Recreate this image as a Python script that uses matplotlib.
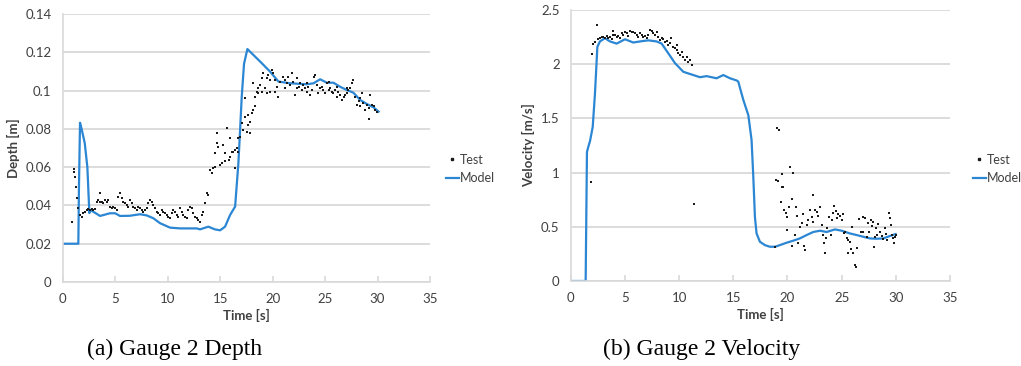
import matplotlib
matplotlib.use("Agg")
import matplotlib.pyplot as plt
from matplotlib.lines import Line2D

# ---------------- Data: (a) Gauge 2 Depth ----------------
depth_model_t = [0.0, 1.49, 1.55, 1.65, 1.8, 2.1, 2.35, 2.54, 2.6, 2.92, 3.56, 4.5, 5.0, 5.46, 6.4, 7.37,
                 8.0, 8.64, 9.28, 10.23, 11.18, 12.1, 12.77, 13.09, 13.88, 14.5, 15.0, 15.47, 15.95,
                 16.43, 16.74, 16.9, 17.06, 17.28, 17.6, 18.97, 19.76, 20.56, 21.67, 23.26, 23.9,
                 24.53, 25.17, 25.8, 26.43, 27.07, 27.7, 28.34, 28.98, 29.6, 30.1]
depth_model_d = [0.020, 0.020, 0.050, 0.0832, 0.080, 0.0726, 0.060, 0.036, 0.0376, 0.0367, 0.0345, 0.0359,
                 0.0359, 0.0345, 0.0346, 0.0354, 0.0348, 0.0333, 0.0307, 0.0284, 0.0280, 0.0280, 0.0280,
                 0.0275, 0.0289, 0.0275, 0.0270, 0.0289, 0.0350, 0.0394, 0.062, 0.079, 0.0968, 0.114,
                 0.1217, 0.1143, 0.1099, 0.1047, 0.1038, 0.1033, 0.1038, 0.1059, 0.1041, 0.1041, 0.1020,
                 0.1003, 0.0989, 0.0951, 0.0930, 0.0913, 0.0890]

depth_test_t = [0.89, 1.08, 1.08, 1.17, 1.27, 1.4, 1.49, 1.65, 1.81, 1.97, 2.13, 2.28, 2.44, 2.6, 2.76, 2.92,
                3.08, 3.24, 3.4, 3.56, 3.56, 3.72, 3.87, 4.03, 4.19, 4.35, 4.51, 4.67, 4.83, 4.99, 5.14,
                5.3, 5.46, 5.62, 5.78, 5.94, 6.1, 6.26, 6.42, 6.57, 6.73, 6.89, 7.05, 7.21, 7.37, 7.53,
                7.69, 7.85, 8.0, 8.16, 8.32, 8.48, 8.64, 8.8, 8.96, 9.12, 9.28, 9.43, 9.59, 9.75, 9.91,
                10.07, 10.23, 10.39, 10.55, 10.71, 10.86, 11.02, 11.18, 11.34, 11.5, 11.66, 11.82, 11.98,
                12.14, 12.3, 12.45, 12.61, 12.77, 12.93, 13.09, 13.25, 13.41, 13.57, 13.73, 13.89,
                14.05, 14.2, 14.36, 14.52, 14.52, 14.68, 14.68, 14.84, 15.0, 15.16, 15.32, 15.48, 15.48,
                15.64, 15.8, 15.95, 15.95, 16.11, 16.27, 16.43, 16.43, 16.59, 16.75, 16.75, 16.91,
                17.06, 17.22, 17.38, 17.38, 17.54, 17.7, 17.7, 17.86, 17.86, 18.02, 18.18, 18.34, 18.18,
                18.34, 18.5, 18.65, 18.81, 18.65, 18.97, 18.97, 19.13, 19.29, 19.45, 19.45, 19.61,
                19.77, 19.77, 19.93, 20.08, 20.24, 20.24, 20.4, 20.56,
                20.72, 21.04, 21.2, 21.2, 21.35, 21.51, 21.67, 21.83, 21.99, 22.15, 22.31, 22.31, 22.47,
                22.63, 22.78, 22.94, 23.1, 23.26, 23.26, 23.42, 23.58, 23.74, 23.9, 24.06, 24.21, 24.37,
                24.53, 24.69, 24.85, 25.01, 25.17, 25.33, 25.33, 25.49, 25.65, 25.8, 25.96, 26.12, 26.12,
                26.28, 26.44, 26.6, 26.76, 26.92, 27.07, 27.07, 27.23, 27.39, 27.55, 27.71, 27.87, 28.03,
                28.19, 28.35, 28.35, 28.5, 28.66, 28.82, 28.98, 29.14, 29.2, 29.3, 29.46, 29.62, 29.78,
                29.94]
depth_test_d = [0.0315, 0.0576, 0.0589, 0.0550, 0.0498, 0.0437, 0.0385, 0.0350, 0.0341, 0.0359, 0.0367,
                0.0376, 0.0380, 0.0376, 0.0380, 0.0376,
                0.0380, 0.0420, 0.0428, 0.0467, 0.0420, 0.0420, 0.0411, 0.0428, 0.0420, 0.0428, 0.0393,
                0.0385, 0.0393, 0.0385, 0.0376, 0.0446, 0.0463, 0.0437, 0.0420, 0.0411, 0.0402, 0.0393,
                0.0428, 0.0411, 0.0393, 0.0385, 0.0376, 0.0393, 0.0385, 0.0376, 0.0367, 0.0376, 0.0385,
                0.0411, 0.0428, 0.0420, 0.0402, 0.0385, 0.0367, 0.0359, 0.0350, 0.0376, 0.0367, 0.0359,
                0.0350, 0.0341, 0.0332, 0.0359, 0.0376, 0.0367, 0.0350, 0.0341, 0.0385, 0.0367, 0.0350,
                0.0341, 0.0332, 0.0376, 0.0393, 0.0385, 0.0359, 0.0341, 0.0332, 0.0324, 0.0315, 0.0350,
                0.0368, 0.0411, 0.0464, 0.0455,
                0.0586, 0.0568, 0.0594, 0.0603, 0.0673, 0.0725, 0.0777, 0.0707, 0.0612, 0.0621, 0.0716,
                0.0673, 0.0630, 0.0803, 0.0638, 0.0655, 0.0751, 0.0681, 0.0681, 0.0690, 0.0594, 0.0699,
                0.0751, 0.0681, 0.0760,
                0.0829, 0.0795, 0.0864, 0.0960, 0.0786, 0.0873, 0.0821, 0.0777, 0.0838, 0.0882, 0.0899,
                0.0917, 0.1038, 0.0969, 0.0995, 0.1012, 0.1030, 0.0986, 0.1064, 0.0995, 0.1090, 0.1012,
                0.1064, 0.0986, 0.1082, 0.1056, 0.0995, 0.1108, 0.1090, 0.1056, 0.0995, 0.1021, 0.0969,
                0.1047, 0.1073, 0.1056, 0.1012, 0.1038, 0.1073, 0.1030, 0.1090, 0.1047, 0.0977, 0.1064,
                0.1012, 0.1021, 0.1038, 0.1004, 0.1030, 0.1012, 0.0995, 0.1038, 0.1021, 0.0977, 0.1004,
                0.1073, 0.1082, 0.1030, 0.0986, 0.1012, 0.1021, 0.1004, 0.0986, 0.1038, 0.1004, 0.1047,
                0.1012, 0.0995, 0.0986, 0.1004, 0.0969, 0.1021, 0.0995, 0.0977, 0.0951, 0.0969, 0.0977,
                0.0986, 0.1012, 0.1004, 0.1012, 0.1038, 0.1056, 0.0969, 0.0925, 0.0943, 0.0917, 0.0960,
                0.0986, 0.0934, 0.0899, 0.0925, 0.0908, 0.0850, 0.0977, 0.0925, 0.0917, 0.0899, 0.0890]

depth_xticks = [0, 5, 10, 15, 20, 25, 30, 35]
depth_yticks = [0, 0.02, 0.04, 0.06, 0.08, 0.1, 0.12, 0.14]
depth_yticklabels = ["0", "0.02", "0.04", "0.06", "0.08", "0.1", "0.12", "0.14"]

# ---------------- Data: (b) Gauge 2 Velocity ----------------
vel_model_t = [0.0, 1.38, 1.5, 1.63, 1.78, 2.03, 2.24, 2.46, 2.7, 3.16, 3.63, 4.24, 5.01, 5.78, 6.39, 7.16,
               7.93, 8.39, 9.01, 9.62, 10.39, 11.0, 11.93, 12.54, 13.46, 14.08, 14.7, 15.31, 15.46, 15.93,
               16.39, 16.69, 16.85, 17.0, 17.15, 17.46, 17.92, 18.38, 18.85, 19.3, 19.92, 20.54, 21.15,
               21.77, 22.38, 23.0, 23.61, 24.38, 25.0, 25.76, 26.38, 27.0, 27.61, 28.23, 28.84, 29.45,
               29.98]
vel_model_v = [0.0, 0.0, 1.19, 1.24, 1.29, 1.42, 1.73, 2.16, 2.21, 2.24, 2.21, 2.19, 2.23, 2.20, 2.21, 2.22,
               2.21, 2.19, 2.10, 2.01, 1.93, 1.91, 1.88, 1.89, 1.87, 1.90, 1.87, 1.85, 1.84, 1.67, 1.53,
               1.30, 0.96, 0.59, 0.439, 0.362, 0.331, 0.316, 0.316, 0.331, 0.353, 0.372, 0.393, 0.424,
               0.452, 0.464, 0.452, 0.476, 0.464, 0.439, 0.424, 0.408, 0.393, 0.390, 0.393, 0.415, 0.433]

vel_test_t = [1.84, 1.93, 2.09, 2.24, 2.46, 2.55, 2.70, 2.86, 3.01, 3.16, 3.32, 3.47, 3.63, 3.78, 3.93,
              3.93, 4.09, 4.24, 4.39, 4.55, 4.70, 4.86, 5.01, 5.16, 5.32, 5.47, 5.62, 5.78, 5.93, 6.09,
              6.24, 6.39, 6.55, 6.70, 6.85, 7.01, 7.16, 7.32, 7.47, 7.62, 7.78, 7.93, 8.08, 8.24, 8.39,
              8.55, 8.70, 8.85, 9.01, 9.16, 9.30, 9.47, 9.62, 9.78, 9.84, 9.93, 10.08, 10.24, 10.39,
              10.54, 10.70, 10.85, 11.0, 11.16, 11.37, 18.85,
              19.0, 19.25, 18.94, 19.15, 19.46, 19.52, 19.61, 19.37, 19.71, 19.86, 19.98, 19.92, 20.23,
              20.54, 20.38, 20.17, 20.45, 20.69, 20.78, 20.99, 20.9, 21.15, 21.31, 21.46, 21.55, 21.61,
              21.77, 21.92, 22.08, 22.23, 22.32, 22.38, 22.54, 22.69, 22.84, 23.0, 23.15, 23.24, 23.37,
              23.46, 23.55, 23.67, 23.86, 23.98, 24.07, 24.23, 24.32, 24.47, 24.6, 24.69, 24.84, 25.0,
              25.09, 25.21, 25.3, 25.46, 25.55, 25.61, 25.76, 25.83, 25.92, 26.07, 26.23, 26.32, 26.38,
              26.63, 26.75, 26.93, 27.0, 27.15, 27.3, 27.46, 27.55, 27.67, 27.76, 27.86, 27.98, 28.07,
              28.16, 28.29, 28.38, 28.53, 28.69, 28.84, 29.0, 29.09, 29.21, 29.39, 29.45, 29.52, 29.61,
              29.76, 29.82, 29.92, 29.98]
vel_test_v = [0.916, 2.091, 2.183, 2.208, 2.360, 2.233, 2.239, 2.254, 2.254, 2.245, 2.263, 2.239, 2.254,
              2.233, 2.306, 2.270, 2.270, 2.254, 2.263, 2.239, 2.285, 2.270, 2.300, 2.285, 2.263, 2.306,
              2.300, 2.300, 2.285, 2.270, 2.254, 2.285, 2.270, 2.254, 2.263, 2.239, 2.270, 2.316, 2.306,
              2.285, 2.270, 2.300, 2.254, 2.223, 2.239, 2.233, 2.208, 2.214, 2.177, 2.193, 2.239, 2.162,
              2.146, 2.131, 2.177, 2.100, 2.085, 2.116, 2.070, 2.039, 2.070, 2.023, 2.039, 1.993, 0.710,
              0.316,
              1.408, 1.392, 0.931, 0.925, 0.987, 0.864, 0.864, 0.731, 0.654, 0.624, 0.593, 0.470, 1.048,
              0.993, 0.753, 0.679, 0.322, 0.424, 0.679, 0.347, 0.599, 0.501, 0.531, 0.618, 0.322, 0.285,
              0.516, 0.562, 0.654, 0.593, 0.793, 0.547, 0.654, 0.639, 0.599, 0.679, 0.516, 0.424, 0.353,
              0.261, 0.393, 0.485, 0.587, 0.424, 0.562, 0.624, 0.691, 0.648, 0.578, 0.618, 0.599, 0.562,
              0.618, 0.445, 0.455, 0.393, 0.378, 0.255, 0.362, 0.291, 0.495, 0.255, 0.147, 0.126, 0.301,
              0.568, 0.455, 0.455, 0.593, 0.578, 0.408, 0.531, 0.455, 0.562, 0.507, 0.547, 0.316, 0.408,
              0.485, 0.424, 0.525, 0.455, 0.415, 0.384, 0.485, 0.433, 0.378, 0.624, 0.578, 0.516, 0.424,
              0.393, 0.347, 0.408, 0.424]

vel_xticks = [0, 5, 10, 15, 20, 25, 30, 35]
vel_yticks = [0, 0.5, 1, 1.5, 2, 2.5]
vel_yticklabels = ["0", "0.5", "1", "1.5", "2", "2.5"]

legend_labels = ["Test", "Model"]
captions = ["(a) Gauge 2 Depth", "(b) Gauge 2 Velocity"]
xlabel = "Time [s]"
ylabels = ["Depth [m]", "Velocity [m/s]"]

# ---------------- Styling ----------------
W, H = 1021, 366
fig = plt.figure(figsize=(W / 100, H / 100), dpi=100)
fig.patch.set_facecolor("white")

SANS = ["Lato", "DejaVu Sans"]
SERIF = ["Liberation Serif", "DejaVu Serif"]
BLUE = "#2b86d3"
GRID = "#d9d9d9"
TXT = "#404040"


def px_rect(x0, y0, x1, y1):
    return [x0 / W, 1 - y1 / H, (x1 - x0) / W, (y1 - y0) / H]


def style_axes(ax, xticks, yticks, yticklabels, ylabel):
    ax.set_xlim(0, 35)
    ax.set_xticks(xticks)
    ax.set_yticks(yticks)
    ax.set_yticklabels(yticklabels)
    ax.set_ylim(yticks[0], yticks[-1])
    for s in ["top", "right"]:
        ax.spines[s].set_visible(False)
    for s in ["bottom", "left"]:
        ax.spines[s].set_color(GRID)
        ax.spines[s].set_linewidth(1.2)
    ax.yaxis.grid(True, color=GRID, linewidth=1.3)
    ax.set_axisbelow(True)
    ax.tick_params(axis="y", length=0, pad=8, labelsize=9.5, labelcolor=TXT)
    ax.tick_params(axis="x", direction="in", length=4, width=1.2, color=GRID, pad=8,
                   labelsize=9.5, labelcolor=TXT)
    for lab in ax.get_xticklabels() + ax.get_yticklabels():
        lab.set_family(SANS)
    ax.set_xlabel(xlabel, family=SANS, fontsize=9.5, fontweight="bold", color=TXT, labelpad=3)
    ax.set_ylabel(ylabel, family=SANS, fontsize=9.5, fontweight="bold", color=TXT, labelpad=4)


# Left panel
ax1 = fig.add_axes(px_rect(62.7, 14, 430, 282))
ax1.scatter(depth_test_t, depth_test_d, s=3, marker="s", color="#1a1a1a", linewidths=0, zorder=3)
ax1.plot(depth_model_t, depth_model_d, color=BLUE, lw=1.6, zorder=2)
style_axes(ax1, depth_xticks, depth_yticks, depth_yticklabels, ylabels[0])

# Right panel
ax2 = fig.add_axes(px_rect(570.7, 10, 950, 281))
ax2.scatter(vel_test_t, vel_test_v, s=3, marker="s", color="#1a1a1a", linewidths=0, zorder=3)
ax2.plot(vel_model_t, vel_model_v, color=BLUE, lw=1.6, zorder=2)
style_axes(ax2, vel_xticks, vel_yticks, vel_yticklabels, ylabels[1])

handles = [Line2D([], [], linestyle="none", marker="s", markersize=1.6, color="#1a1a1a"),
           Line2D([], [], color=BLUE, lw=1.6)]
for xpx in (446, 973):
    fig.legend(handles, legend_labels, loc="center left",
               bbox_to_anchor=(xpx / W, 1 - 169 / H), frameon=False,
               handlelength=1.0, handletextpad=0.1, labelspacing=0.55, borderpad=0,
               borderaxespad=0, prop={"family": SANS, "size": 9}, labelcolor=TXT)

# Captions
fig.text(175 / W, 1 - 349 / H, captions[0], family=SERIF, fontsize=17, ha="center", va="center",
         color="black")
fig.text(702 / W, 1 - 349 / H, captions[1], family=SERIF, fontsize=17, ha="center", va="center",
         color="black")

fig.savefig("out.png", dpi=100, facecolor="white")
